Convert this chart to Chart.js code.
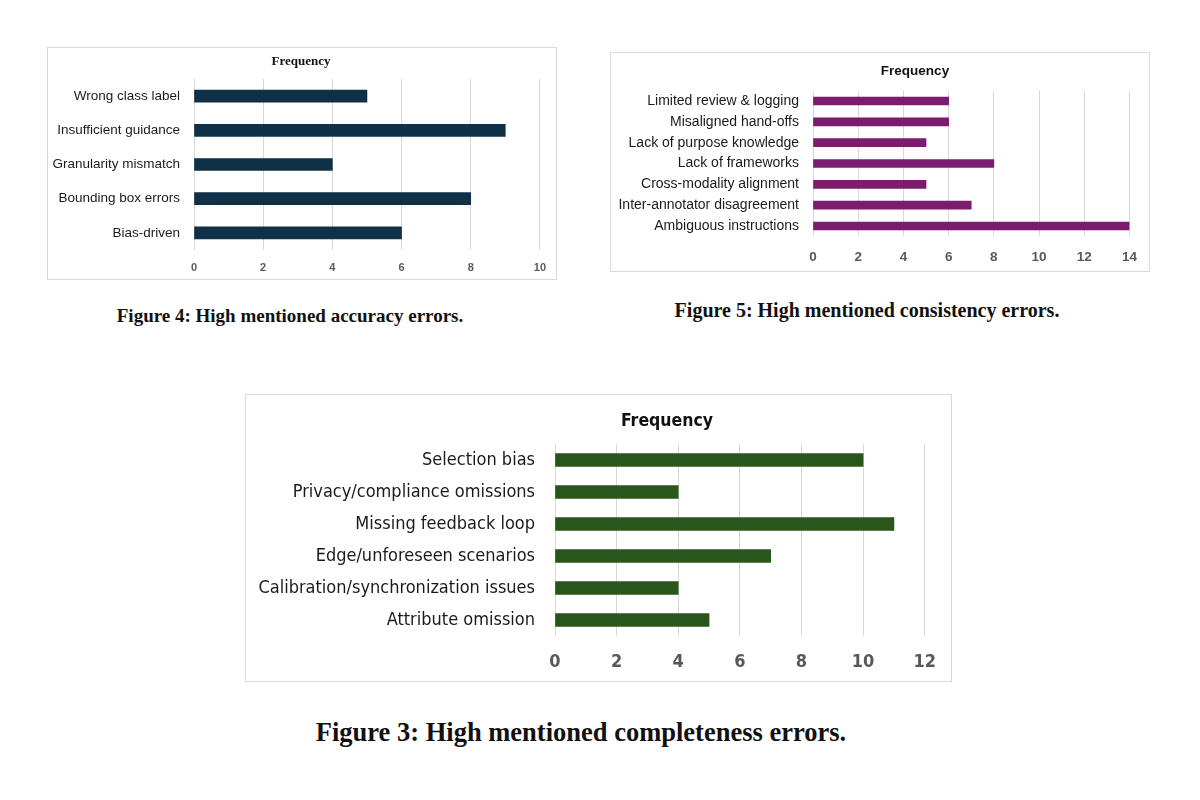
<!DOCTYPE html>
<html>
<head>
<meta charset="utf-8">
<script src="https://cdn.jsdelivr.net/npm/chart.js@4"></script>
<style>
  body { margin: 0; width: 1200px; height: 800px; background: #fff; position: relative; overflow: hidden; }
  .box { position: absolute; border: 1px solid #d9d9d9; box-sizing: border-box; }
  .box canvas { position: absolute; left: -1px; top: -1px; }
  .caption { position: absolute; transform: translate(-50%, -50%); white-space: nowrap;
             font-family: 'Liberation Serif', 'DejaVu Serif', serif; font-weight: bold; color: #111; }
</style>
</head>
<body>
<div class="box" id="box-acc" style="left:47px; top:47px; width:510px; height:233px;"><canvas id="chart-acc"></canvas></div>
<div class="box" id="box-con" style="left:610px; top:52px; width:540px; height:220px;"><canvas id="chart-con"></canvas></div>
<div class="box" id="box-com" style="left:245px; top:394px; width:707px; height:288px;"><canvas id="chart-com"></canvas></div>

<div class="caption" style="left:290px; top:316px; font-size:19px;">Figure 4: High mentioned accuracy errors.</div>
<div class="caption" style="left:867px; top:310px; font-size:20px;">Figure 5: High mentioned consistency errors.</div>
<div class="caption" style="left:581px; top:732px; font-size:26.5px;">Figure 3: High mentioned completeness errors.</div>

<script>
// Figure 4 - accuracy errors
const accuracyLabels = ['Wrong class label', 'Insufficient guidance', 'Granularity mismatch', 'Bounding box errors', 'Bias-driven'];
const accuracyValues = [5, 9, 4, 8, 6];
const accuracyMax = 10;

// Figure 5 - consistency errors
const consistencyLabels = ['Limited review & logging', 'Misaligned hand-offs', 'Lack of purpose knowledge', 'Lack of frameworks',
  'Cross-modality alignment', 'Inter-annotator disagreement', 'Ambiguous instructions'];
const consistencyValues = [6, 6, 5, 8, 5, 7, 14];
const consistencyMax = 14;

// Figure 3 - completeness errors
const completenessLabels = ['Selection bias', 'Privacy/compliance omissions', 'Missing feedback loop', 'Edge/unforeseen scenarios',
  'Calibration/synchronization issues', 'Attribute omission'];
const completenessValues = [10, 4, 11, 7, 4, 5];
const completenessMax = 12;

const tickStep = 2;
const seriesName = 'Frequency';

const sans = "'Liberation Sans', Arial, sans-serif";
const narrow = "'Liberation Sans Narrow', 'DejaVu Sans Condensed', 'Liberation Sans', sans-serif";
const serif = "'Liberation Serif', 'Times New Roman', serif";

// the built-in title can only centre on the whole canvas, the originals sit off-centre
const seriesTitle = {
  id: 'seriesTitle',
  afterDraw(chart, args, opts) {
    const ctx = chart.ctx;
    ctx.save();
    ctx.font = `bold ${opts.size}px ${opts.family}`;
    ctx.fillStyle = '#111';
    ctx.textAlign = 'center';
    ctx.textBaseline = 'middle';
    ctx.fillText(opts.text, opts.x, opts.y);
    ctx.restore();
  }
};

function drawBarChart(canvasId, labels, values, max, s) {
  const canvas = document.getElementById(canvasId);
  canvas.width = s.width;
  canvas.height = s.height;

  return new Chart(canvas.getContext('2d'), {
    type: 'bar',
    data: {
      labels: labels,
      datasets: [{
        label: seriesName,
        data: values,
        backgroundColor: s.color,
        barThickness: s.barThickness,
      }]
    },
    plugins: [seriesTitle],
    options: {
      indexAxis: 'y',
      responsive: false,
      animation: false,
      layout: { padding: { left: 0, right: s.padRight, top: s.plotTop, bottom: 0 } },
      plugins: {
        legend: { display: false },
        tooltip: { enabled: false },
        title: { display: false },
        seriesTitle: { text: seriesName, x: s.titleX, y: s.titleY, size: s.titleSize, family: s.titleFamily }
      },
      scales: {
        x: {
          min: 0,
          max: max,
          ticks: {
            stepSize: tickStep,
            color: '#595959',
            padding: s.xTickPad,
            font: { family: s.tickFamily, size: s.tickSize, weight: 'bold' }
          },
          grid: { color: '#d9d9d9', lineWidth: 1, drawTicks: false },
          border: { display: false },
          afterFit: (scale) => { scale.height = s.xAxisHeight; }
        },
        y: {
          ticks: {
            color: '#1a1a1a',
            padding: s.yTickPad,
            autoSkip: false,
            font: { family: s.labelFamily, size: s.labelSize }
          },
          grid: { display: false, drawTicks: false },
          border: { display: false },
          afterFit: (scale) => { scale.width = s.plotLeft; }
        }
      }
    }
  });
}

drawBarChart('chart-acc', accuracyLabels, accuracyValues, accuracyMax, {
  width: 510, height: 233, color: '#0f3046', barThickness: 12,
  padRight: 17, plotLeft: 147, plotTop: 32, xAxisHeight: 30, xTickPad: 11, yTickPad: 14,
  titleFamily: serif, titleSize: 13, titleX: 254, titleY: 15,
  tickFamily: sans, tickSize: 11, labelFamily: sans, labelSize: 13.5
});

drawBarChart('chart-con', consistencyLabels, consistencyValues, consistencyMax, {
  width: 540, height: 220, color: '#7b1c6e', barThickness: 8,
  padRight: 20, plotLeft: 203, plotTop: 38.6, xAxisHeight: 35.6, xTickPad: 13, yTickPad: 14,
  titleFamily: sans, titleSize: 13.5, titleX: 305, titleY: 19,
  tickFamily: sans, tickSize: 13.5, labelFamily: sans, labelSize: 14
});

drawBarChart('chart-com', completenessLabels, completenessValues, completenessMax, {
  width: 707, height: 288, color: '#2a561c', barThickness: 13,
  padRight: 24, plotLeft: 310, plotTop: 50, xAxisHeight: 46, xTickPad: 16, yTickPad: 20,
  titleFamily: narrow, titleSize: 17.5, titleX: 422, titleY: 27,
  tickFamily: narrow, tickSize: 18, labelFamily: narrow, labelSize: 18
});
</script>
</body>
</html>
